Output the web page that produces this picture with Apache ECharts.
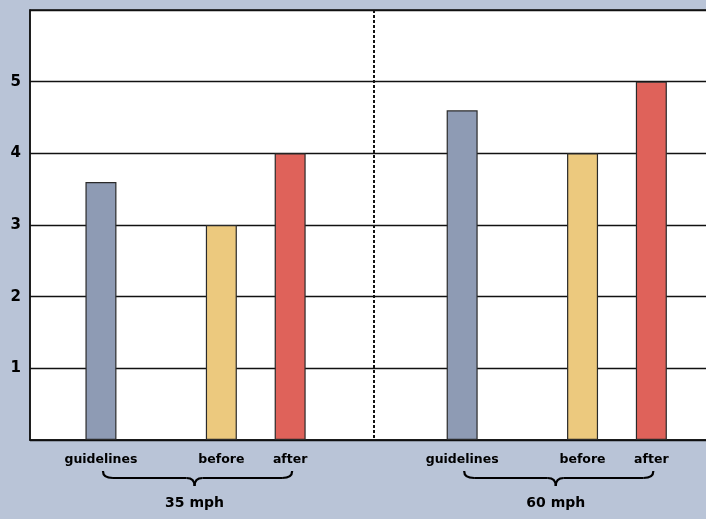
<!DOCTYPE html>
<html><head><meta charset="utf-8">
<script src="https://cdn.jsdelivr.net/npm/echarts@6/dist/echarts.min.js"></script>
<style>html,body{margin:0;padding:0;background:#b9c4d7}#c{width:706px;height:519px}</style>
</head><body><div id="c"></div>
<script>
// ---- data ----
var groups = ['35 mph', '60 mph'];
var measures = ['guidelines', 'before', 'after'];
var values35 = [3.6, 3.0, 4.0];
var values60 = [4.6, 4.0, 5.0];
var yTicks = [1, 2, 3, 4, 5];

// ---- layout (slot positions on a fine category axis) ----
var SLOTS = 159;
var slotIndex = [[16, 44, 60], [100, 128, 144]];
var dividerSlot = 80;
var colors = ['#8e9bb4', '#ecc97e', '#df625a'];

var cats = [], data = [];
for (var i = 0; i < SLOTS; i++) { cats.push(''); data.push(null); }
var allVals = [values35, values60];
groups.forEach(function (g, gi) {
  measures.forEach(function (m, mi) {
    var k = slotIndex[gi][mi];
    cats[k] = m;
    data[k] = { value: allVals[gi][mi], itemStyle: { color: colors[mi] } };
  });
});

var chart = echarts.init(document.getElementById('c'));
var font = '"DejaVu Sans", "Liberation Sans", Arial, sans-serif';
chart.setOption({
  backgroundColor: '#b9c4d7',
  animation: false,
  grid: { left: 30, top: 10, width: 683.7, height: 430, outerBoundsMode: 'none', containLabel: false,
    backgroundColor: '#ffffff', show: true, borderColor: '#111', borderWidth: 1.5 },
  xAxis: {
    type: 'category', data: cats, boundaryGap: true,
    axisLine: { show: true, lineStyle: { color: '#111', width: 1.5 } },
    axisTick: { show: false },
    axisLabel: { interval: 0, color: '#000', fontFamily: font, fontWeight: 'bold', fontSize: 12.5, margin: 13 }
  },
  yAxis: {
    type: 'value', min: 0, max: 6, interval: 1,
    axisLine: { show: true, lineStyle: { color: '#111', width: 1.5 } },
    axisTick: { show: false },
    splitLine: { lineStyle: { color: '#111', width: 1.3 } },
    axisLabel: { color: '#000', fontFamily: font, fontWeight: 'bold', fontSize: 15, margin: 9,
      formatter: function (v) { return yTicks.indexOf(v) >= 0 ? String(v) : ''; } }
  },
  series: [{
    type: 'bar', data: data, barWidth: 31, barMinWidth: 31,
    itemStyle: { borderColor: '#2a2a2a', borderWidth: 1.2 }
  }]
});

// decorations computed from the axes
var g = [];
var yTop = chart.convertToPixel({ yAxisIndex: 0 }, 6);
var yBot = chart.convertToPixel({ yAxisIndex: 0 }, 0);
var dx = (chart.convertToPixel({ xAxisIndex: 0 }, dividerSlot) + chart.convertToPixel({ xAxisIndex: 0 }, dividerSlot - 1)) / 2;
g.push({ type: 'line', shape: { x1: dx, y1: yTop, x2: dx, y2: yBot }, style: { stroke: '#111', lineWidth: 2, lineDash: [3, 2] }, z: 10 });
var braceStyle = { stroke: '#000', lineWidth: 2.2, fill: null };
groups.forEach(function (name, gi) {
  var x1 = chart.convertToPixel({ xAxisIndex: 0 }, slotIndex[gi][0]) + 2;
  var x2 = chart.convertToPixel({ xAxisIndex: 0 }, slotIndex[gi][2]) + 2;
  var xm = (x1 + x2) / 2 - 3;
  var y0 = 471, y1 = 478, y2 = 486;
  g.push({ type: 'bezierCurve', shape: { x1: x1, y1: y0, x2: x1 + 10, y2: y1, cpx1: x1, cpy1: y1 }, style: braceStyle });
  g.push({ type: 'line', shape: { x1: x1 + 10, y1: y1, x2: xm - 8, y2: y1 }, style: braceStyle });
  g.push({ type: 'bezierCurve', shape: { x1: xm - 8, y1: y1, x2: xm, y2: y2, cpx1: xm, cpy1: y1 }, style: braceStyle });
  g.push({ type: 'bezierCurve', shape: { x1: xm, y1: y2, x2: xm + 8, y2: y1, cpx1: xm, cpy1: y1 }, style: braceStyle });
  g.push({ type: 'line', shape: { x1: xm + 8, y1: y1, x2: x2 - 10, y2: y1 }, style: braceStyle });
  g.push({ type: 'bezierCurve', shape: { x1: x2 - 10, y1: y1, x2: x2, y2: y0, cpx1: x2, cpy1: y1 }, style: braceStyle });
  g.push({ type: 'text', x: xm, y: 503, style: { text: name, fill: '#000', font: 'bold 14px ' + font, textAlign: 'center', textVerticalAlign: 'middle' } });
});
chart.setOption({ graphic: g });
</script>
</body></html>
